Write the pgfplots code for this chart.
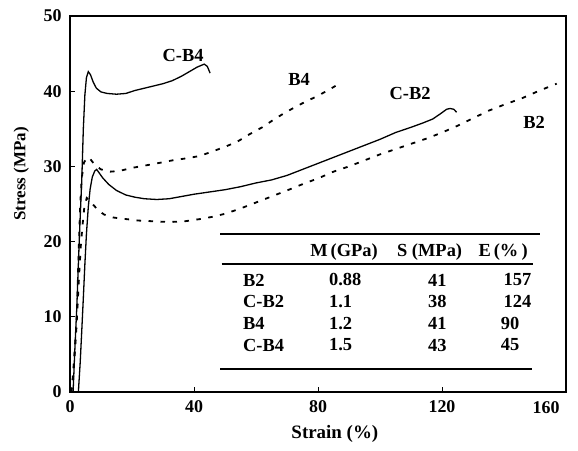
\documentclass[border=0pt]{standalone}
\usepackage{fontspec}
\setmainfont{Liberation Serif}
\usepackage{pgfplots}
\pgfplotsset{compat=1.18}
\begin{document}
\begin{tikzpicture}
\useasboundingbox (-70bp,-59bp) rectangle (508bp,392bp);
\begin{axis}[
  at={(0,0)}, anchor=south west,
  scale only axis, width=496bp, height=376bp,
  xmin=0, xmax=160, ymin=0, ymax=50,
  xtick={0,40,80,120}, ytick={0,10,20,30,40,50},
  xticklabels={0,40,80,120}, yticklabels={0,10,20,30,40,50},
  tick align=inside, tick pos=left,
  major tick length=5bp,
  axis line style={line width=1.6bp},
  every tick/.style={line width=1bp, black},
  ticklabel style={font=\fontsize{18}{20}\selectfont\bfseries},
  xticklabel style={yshift=-5bp},
  yticklabel style={xshift=-5bp},
  xlabel={Strain (\%)}, ylabel={Stress (MPa)},
  xlabel style={font=\fontsize{19}{22}\selectfont\bfseries, at={(axis description cs:0.534,-0.112)}, anchor=center},
  ylabel style={font=\fontsize{17}{20}\selectfont\bfseries, at={(axis description cs:-0.098,0.58)}, anchor=center},
  clip=false,
]
% C-B4
\addplot[black, line width=1.3bp] coordinates {
(1,0)(1.6,6)(2.2,11.3)(2.7,17)(3.2,22.4)(3.8,28.2)(4.3,35)(4.8,39.5)(5.3,41.8)(5.9,42.6)(6.6,42.2)(7.5,41.2)(8.5,40.4)(10,39.9)(12,39.7)(15,39.6)(18,39.7)(21,40.1)(24,40.4)(27,40.7)(30,41.0)(33,41.4)(36,42.0)(38.5,42.6)(41,43.2)(43.3,43.6)(44.3,43.3)(45.2,42.4)
};
% C-B2
\addplot[black, line width=1.3bp] coordinates {
(2.7,0)(3.3,4)(3.8,8.2)(4.3,12.5)(4.8,17)(5.3,21)(5.9,24.6)(6.5,27)(7.2,28.6)(8,29.4)(8.6,29.6)(9.3,29.2)(10.5,28.5)(12.5,27.6)(15,26.8)(18,26.2)(21,25.9)(24,25.7)(28,25.6)(32,25.7)(36,26.0)(40,26.3)(45,26.6)(50,26.9)(55,27.3)(60,27.8)(65,28.2)(70,28.8)(75,29.6)(80,30.4)(85,31.2)(90,32.0)(95,32.8)(100,33.6)(105,34.5)(110,35.2)(114,35.8)(117,36.3)(119.5,37.0)(121.5,37.6)(122.6,37.7)(123.8,37.6)(124.7,37.2)
};
% B4
\addplot[black, line width=1.8bp, dash pattern=on 4.5bp off 7.5bp] coordinates {
(0.3,0)(1,2)(1.6,6)(2.2,10)(2.6,16)(2.9,20)(3.3,25)(3.8,28.5)(4.5,30.5)(5.5,31.2)(6.5,31.0)(8,30.2)(10,29.6)(13,29.3)(16,29.4)(20,29.8)(24,30.1)(28,30.4)(33,30.8)(38,31.1)(42,31.4)(46,32.0)(50,32.6)(54,33.3)(58,34.3)(62,35.2)(66,36.3)(70,37.3)(75,38.4)(80,39.4)(84,40.3)(87.6,41.2)
};
% B2
\addplot[black, line width=1.8bp, dash pattern=on 4.5bp off 7.5bp] coordinates {
(0.5,0)(1.3,4)(2,8)(2.5,12)(3,16)(3.5,19.5)(4,22)(4.6,24.5)(5.4,25.8)(6.3,25.5)(7.5,24.9)(9,24.2)(11,23.6)(14,23.2)(18,23.0)(22,22.8)(27,22.7)(32,22.6)(37,22.7)(42,23.0)(46,23.3)(50,23.7)(55,24.4)(60,25.2)(65,26.0)(70,26.8)(76,27.8)(80,28.4)(85,29.3)(90,30.0)(95,30.8)(100,31.6)(105,32.3)(110,33.0)(115,33.7)(120,34.5)(125,35.4)(130,36.4)(135,37.4)(140,38.2)(146,39.1)(151,40.0)(157,41.0)
};
% curve labels
\begin{scope}[every node/.style={font=\fontsize{18.5}{21}\selectfont\bfseries, inner sep=0pt}]
\node at (axis cs:36.5,44.8) {C-B4};
\node at (axis cs:73.9,41.6) {B4};
\node at (axis cs:109.7,39.7) {C-B2};
\node at (axis cs:149.7,35.9) {B2};
% 160 tick label
\node[font=\fontsize{18}{20}\selectfont\bfseries] at (axis cs:153.6,-2.1) {160};
% table
\draw[line width=2bp] (axis cs:48.4,21) -- (axis cs:151.6,21);
\draw[line width=2bp] (axis cs:48.9,17) -- (axis cs:149.4,17);
\draw[line width=2bp] (axis cs:48.4,3) -- (axis cs:148.9,3);
\node at (axis cs:88.4,18.65) {M\,(GPa)};
\node at (axis cs:116,18.65) {S (MPa)};
\node at (axis cs:139.7,18.65) {E\,(\%\,)};
\node[anchor=west] at (axis cs:55.8,14.9) {B2};
\node[anchor=west] at (axis cs:55.8,12.0) {C-B2};
\node[anchor=west] at (axis cs:55.8,9.1) {B4};
\node[anchor=west] at (axis cs:55.8,6.25) {C-B4};
\node[anchor=west] at (axis cs:83.5,14.9) {0.88};
\node[anchor=west] at (axis cs:83.5,12.0) {1.1};
\node[anchor=west] at (axis cs:83.5,9.1) {1.2};
\node[anchor=west] at (axis cs:83.5,6.25) {1.5};
\node at (axis cs:118.5,14.9) {41};
\node at (axis cs:118.5,12.0) {38};
\node at (axis cs:118.5,9.1) {41};
\node at (axis cs:118.5,6.25) {43};
\node[anchor=east] at (axis cs:148.9,14.9) {157};
\node[anchor=east] at (axis cs:148.9,12.0) {124};
\node at (axis cs:142,9.1) {90};
\node at (axis cs:142,6.25) {45};
\end{scope}
\end{axis}
\end{tikzpicture}
\end{document}
